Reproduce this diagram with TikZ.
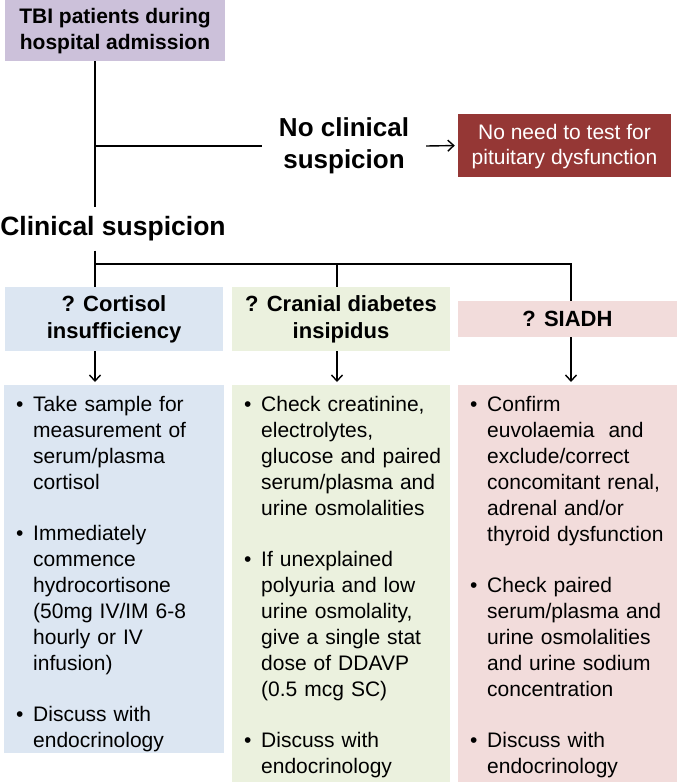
\documentclass[tikz,border=0pt]{standalone}
\usepackage{fontspec}
\setmainfont{Liberation Sans}
\usepackage{tikz}
\usetikzlibrary{arrows.meta}
\definecolor{lavender}{HTML}{CCC1DA}
\definecolor{paleblue}{HTML}{DCE6F2}
\definecolor{palegreen}{HTML}{EBF1DE}
\definecolor{palepink}{HTML}{F2DCDB}
\definecolor{darkred}{HTML}{953735}
\newcommand{\bul}[1]{\par\hangindent=17pt\hangafter=1\noindent\makebox[17pt][l]{\textbullet}{\let\\\newline#1}\par}
\newcommand{\itemgap}{\vspace{25pt}}

\begin{document}
\begin{tikzpicture}[x=1pt,y=-1pt,
  every node/.style={inner sep=0pt},
  line/.style={line width=1.4pt},
  arrow/.style={line width=1.4pt,-{Straight Barb[length=6pt,width=11pt]},shorten >=3pt},
  head/.style={fill=#1,align=center,font=\bfseries\fontsize{22}{27}\selectfont},
  listbox/.style={fill=#1,anchor=north west},
  listtext/.style={anchor=north west,text width=200pt,align=left,font=\fontsize{21}{26}\selectfont}]
  \useasboundingbox (0,0) rectangle (677,782);
  % top of the chart
  \node[fill=lavender,minimum width=220,minimum height=61,align=center,font=\bfseries\fontsize{21}{26}\selectfont,text depth=3pt] (tbi) at (115,30.5) {TBI patients during\\hospital admission};
  \node[inner xsep=17pt,align=center,font=\bfseries\fontsize{26}{32}\selectfont] (noclin) at (344,146) {No clinical\\suspicion};
  \node[fill=darkred,text=white,minimum width=213,minimum height=63,align=center,font=\fontsize{21}{25}\selectfont,text depth=3pt] (noneed) at (564.5,145.5) {No need to test for\\pituitary dysfunction};
  \node[inner ysep=9pt,font=\bfseries\fontsize{26.5}{32}\selectfont] (clin) at (113,229) {Clinical suspicion};
  \coordinate (trunk) at (95,0);
  \coordinate (split) at (95,264);
  \coordinate (cdijoin) at (337,264);
  \coordinate (siadhjoin) at (571,264);
  % the three suspicions
  \node[head=paleblue,minimum width=218,minimum height=64,text depth=3pt] (cort) at (114,319) {? Cortisol\\insufficiency};
  \node[head=palegreen,minimum width=218,minimum height=64,text depth=3pt] (cdi) at (341,319) {? Cranial diabetes\\insipidus};
  \node[head=palepink,minimum width=219,minimum height=36] (siadh) at (567.5,319) {? SIADH};
  \node[listbox=paleblue,minimum width=220,minimum height=368] (cortbody) at (4,385) {};
  \node[listbox=palegreen,minimum width=218,minimum height=397] (cdibody) at (232,385) {};
  \node[listbox=palepink,minimum width=219,minimum height=397] (siadhbody) at (458,385) {};
  \node[listtext] (cortlist) at ([xshift=12pt]cortbody.north west) {%
    \bul{Take sample for\\measurement of\\serum/plasma\\cortisol}
    \itemgap
    \bul{Immediately\\commence\\hydrocortisone\\(50mg IV/IM 6-8\\hourly or IV\\infusion)}
    \itemgap
    \bul{Discuss with\\endocrinology}};
  \node[listtext] (cdilist) at ([xshift=12pt]cdibody.north west) {%
    \bul{Check creatinine,\\electrolytes,\\glucose and paired\\serum/plasma and\\urine osmolalities}
    \itemgap
    \bul{If unexplained\\polyuria and low\\urine osmolality,\\give a single stat\\dose of DDAVP\\(0.5 mcg SC)}
    \itemgap
    \bul{Discuss with\\endocrinology}};
  \node[listtext] (siadhlist) at ([xshift=12pt]siadhbody.north west) {%
    \bul{Confirm\\euvolaemia\ \ and\\exclude/correct\\concomitant renal,\\adrenal and/or\\thyroid dysfunction}
    \itemgap
    \bul{Check paired\\serum/plasma and\\urine osmolalities\\and urine sodium\\concentration}
    \itemgap
    \bul{Discuss with\\endocrinology}};
  % connectors
  \draw[line] (tbi.south -| trunk) -- (clin.north -| trunk);
  \draw[line] (trunk |- noclin) -- (noclin.west);
  \draw[arrow] (noclin.east) -- (noneed.west);
  \draw[line] (clin.south -| trunk) -- (cort.north -| trunk);
  \draw[line] (split) -- (siadhjoin) -- (siadhjoin |- siadh.north);
  \draw[line] (cdijoin) -- (cdijoin |- cdi.north);
  \draw[arrow] (cort.south -| trunk) -- (cortbody.north -| trunk);
  \draw[arrow] (cdijoin |- cdi.south) -- (cdijoin |- cdibody.north);
  \draw[arrow] (siadhjoin |- siadh.south) -- (siadhjoin |- siadhbody.north);
\end{tikzpicture}
\end{document}
